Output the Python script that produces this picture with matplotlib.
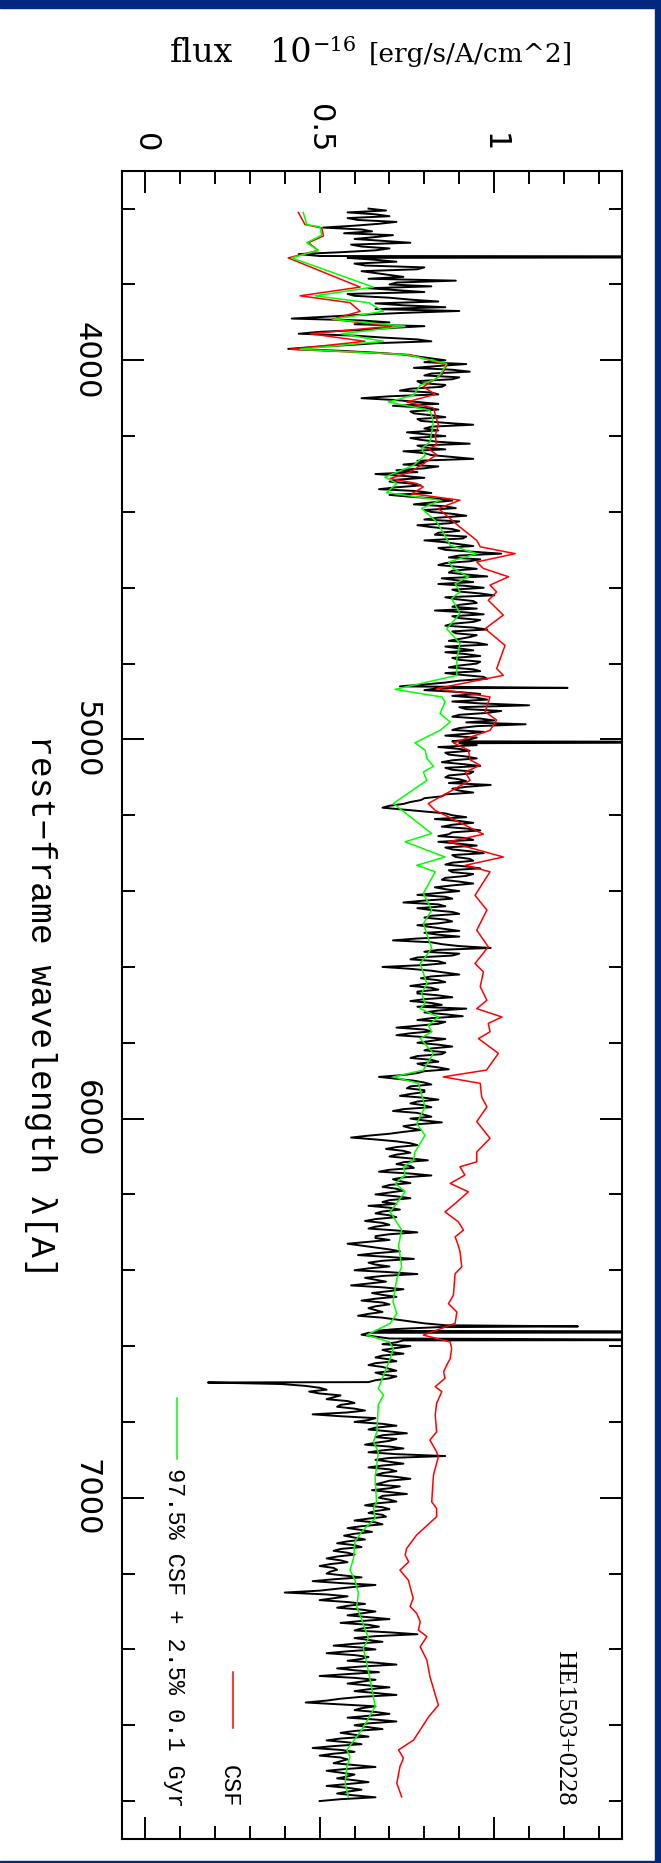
import numpy as np
import matplotlib
matplotlib.use('Agg')
import matplotlib.pyplot as plt
from matplotlib.ticker import MultipleLocator
from matplotlib.patches import Rectangle

plt.rcParams['font.family'] = ['DejaVu Sans']

# observed spectrum, read every 10 A from 3600 to 7800
wave = np.arange(3600, 7801, 10)
flux = [
    0.64, 0.58, 0.70, 0.61, 0.67, 0.51, 0.65, 0.71, 0.60, 0.76,  # 3600
    0.62, 0.66, 0.44, 0.58, 0.72, 0.63, 0.78, 0.66, 0.74, 0.89,  # 3700
    0.70, 0.64, 0.80, 0.60, 0.76, 0.66, 0.86, 0.90, 0.62, 0.42,  # 3800
    0.70, 0.80, 0.62, 0.44, 0.68, 0.82, 0.58, 0.41, 0.66, 0.78,  # 3900
    0.86, 0.92, 0.77, 0.93, 0.80, 0.88, 0.79, 0.85, 0.73, 0.84,  # 4000
    0.62, 0.78, 0.71, 0.84, 0.77, 0.86, 0.79, 0.94, 0.80, 0.75,  # 4100
    0.86, 0.79, 0.93, 0.80, 0.74, 0.82, 0.94, 0.80, 0.84, 0.72,  # 4200
    0.66, 0.80, 0.70, 0.79, 0.67, 0.82, 0.76, 0.88, 0.77, 0.89,  # 4300
    0.82, 0.92, 0.80, 0.87, 0.82, 0.90, 0.83, 0.91, 0.86, 0.94,  # 4400
    0.86, 1.02, 0.87, 0.93, 0.84, 0.95, 0.87, 0.98, 0.89, 0.84,  # 4500
    0.97, 0.90, 1.00, 0.89, 0.95, 0.88, 0.83, 0.97, 0.90, 0.94,  # 4600
    0.86, 0.98, 0.89, 0.93, 0.87, 0.98, 0.90, 0.86, 0.96, 0.90,  # 4700
    0.95, 0.87, 0.96, 0.91, 0.98, 0.86, 0.73, 0.80, 0.96, 0.95,  # 4800
    0.88, 1.10, 0.92, 0.98, 0.88, 1.00, 1.09, 0.90, 0.97, 0.86,  # 4900
    0.93, 0.90, 0.84, 0.93, 0.87, 0.95, 0.85, 0.96, 0.88, 0.93,  # 5000
    0.86, 0.92, 0.99, 0.88, 0.94, 0.85, 0.79, 0.74, 0.68, 0.80,  # 5100
    0.88, 0.83, 0.94, 0.85, 0.96, 0.87, 0.92, 0.84, 0.95, 0.88,  # 5200
    0.97, 0.89, 0.94, 0.86, 0.96, 0.88, 0.92, 0.85, 0.94, 0.83,  # 5300
    0.90, 0.78, 0.88, 0.74, 0.86, 0.82, 0.90, 0.80, 0.88, 0.78,  # 5400
    0.86, 0.80, 0.90, 0.71, 0.85, 0.99, 0.80, 0.88, 0.76, 0.86,  # 5500
    0.68, 0.82, 0.90, 0.79, 0.86, 0.76, 0.84, 0.78, 0.88, 0.76,  # 5600
    0.85, 0.92, 0.80, 0.91, 0.78, 0.84, 0.72, 0.82, 0.72, 0.86,  # 5700
    0.78, 0.88, 0.80, 0.85, 0.76, 0.84, 0.80, 0.87, 0.78, 0.67,  # 5800
    0.77, 0.82, 0.75, 0.80, 0.73, 0.84, 0.76, 0.82, 0.71, 0.80,  # 5900
    0.76, 0.85, 0.74, 0.79, 0.70, 0.59, 0.72, 0.78, 0.69, 0.76,  # 6000
    0.70, 0.81, 0.72, 0.77, 0.67, 0.82, 0.71, 0.76, 0.68, 0.74,  # 6100
    0.66, 0.76, 0.68, 0.64, 0.73, 0.66, 0.72, 0.63, 0.70, 0.64,  # 6200
    0.78, 0.66, 0.70, 0.58, 0.66, 0.73, 0.61, 0.77, 0.64, 0.70,  # 6300
    0.60, 0.78, 0.63, 0.69, 0.59, 0.74, 0.65, 0.72, 0.62, 0.70,  # 6400
    0.64, 0.68, 0.61, 0.72, 0.80, 0.84, 0.66, 0.62, 0.70, 0.72,  # 6500
    0.76, 0.68, 0.74, 0.66, 0.72, 0.64, 0.70, 0.66, 0.72, 0.66,  # 6600
    0.39, 0.50, 0.47, 0.56, 0.52, 0.60, 0.55, 0.63, 0.48, 0.66,  # 6700
    0.60, 0.72, 0.64, 0.75, 0.66, 0.70, 0.63, 0.74, 0.64, 0.86,  # 6800
    0.66, 0.74, 0.64, 0.72, 0.66, 0.76, 0.68, 0.73, 0.65, 0.75,  # 6900
    0.67, 0.72, 0.63, 0.70, 0.64, 0.69, 0.60, 0.68, 0.58, 0.65,  # 7000
    0.57, 0.63, 0.55, 0.62, 0.54, 0.60, 0.52, 0.58, 0.50, 0.55,  # 7100
    0.52, 0.62, 0.48, 0.66, 0.55, 0.40, 0.58, 0.50, 0.63, 0.55,  # 7200
    0.66, 0.58, 0.70, 0.56, 0.67, 0.60, 0.78, 0.60, 0.68, 0.54,  # 7300
    0.66, 0.52, 0.64, 0.58, 0.72, 0.55, 0.67, 0.50, 0.66, 0.58,  # 7400
    0.70, 0.60, 0.72, 0.56, 0.46, 0.66, 0.60, 0.70, 0.58, 0.72,  # 7500
    0.60, 0.68, 0.56, 0.64, 0.52, 0.62, 0.48, 0.60, 0.50, 0.58,  # 7600
    0.54, 0.66, 0.52, 0.60, 0.55, 0.64, 0.52, 0.62, 0.55, 0.66,  # 7700
    0.50,
]

# in-between samples, 3605 ... 7795
wave_mid = np.arange(3605, 7800, 10)
flux_mid = [
    0.69, 0.66, 0.58, 0.72, 0.60, 0.62, 0.57, 0.66, 0.68, 0.59,  # 3605
    0.70, 0.56, 0.50, 0.66, 0.60, 0.80, 0.62, 0.70, 0.64, 0.72,  # 3705
    0.82, 0.72, 0.58, 0.70, 0.84, 0.74, 0.66, 0.74, 0.52, 0.62,  # 3805
    0.60, 0.70, 0.50, 0.60, 0.78, 0.66, 0.48, 0.56, 0.74, 0.82,  # 3905
    0.80, 0.84, 0.88, 0.82, 0.90, 0.78, 0.86, 0.76, 0.82, 0.70,  # 4005
    0.72, 0.84, 0.80, 0.76, 0.82, 0.78, 0.86, 0.82, 0.84, 0.80,  # 4105
    0.76, 0.84, 0.78, 0.86, 0.80, 0.88, 0.78, 0.74, 0.80, 0.78,  # 4205
    0.74, 0.72, 0.76, 0.72, 0.78, 0.70, 0.84, 0.82, 0.86, 0.80,  # 4305
    0.88, 0.84, 0.90, 0.78, 0.88, 0.84, 0.92, 0.80, 0.90, 0.84,  # 4405
    0.94, 0.90, 0.96, 0.86, 0.90, 0.88, 0.92, 0.85, 0.94, 0.92,  # 4505
    0.88, 0.96, 0.86, 0.94, 0.90, 0.95, 0.92, 0.88, 0.96, 0.88,  # 4605
    0.94, 0.88, 0.95, 0.90, 0.95, 0.86, 0.94, 0.92, 0.88, 0.96,  # 4705
    0.90, 0.94, 0.86, 0.97, 0.90, 0.80, 0.84, 0.90, 0.88, 0.98,  # 4805
    0.96, 0.90, 1.02, 0.90, 0.96, 0.92, 0.95, 0.88, 0.92, 0.95,  # 4905
    0.88, 0.95, 0.90, 0.86, 0.92, 0.88, 0.91, 0.86, 0.94, 0.87,  # 5005
    0.90, 0.87, 0.92, 0.90, 0.86, 0.80, 0.76, 0.70, 0.74, 0.86,  # 5105
    0.92, 0.90, 0.88, 0.92, 0.88, 0.84, 0.94, 0.90, 0.86, 0.93,  # 5205
    0.88, 0.93, 0.88, 0.92, 0.87, 0.94, 0.86, 0.90, 0.88, 0.86,  # 5305
    0.84, 0.86, 0.80, 0.84, 0.78, 0.88, 0.82, 0.86, 0.84, 0.82,  # 5405
    0.90, 0.84, 0.78, 0.82, 0.90, 0.84, 0.90, 0.78, 0.84, 0.80,  # 5505
    0.76, 0.86, 0.82, 0.84, 0.80, 0.82, 0.78, 0.84, 0.80, 0.82,  # 5605
    0.78, 0.84, 0.86, 0.82, 0.86, 0.78, 0.80, 0.76, 0.80, 0.82,  # 5705
    0.84, 0.82, 0.86, 0.78, 0.82, 0.78, 0.84, 0.80, 0.74, 0.72,  # 5805
    0.80, 0.76, 0.80, 0.76, 0.80, 0.78, 0.80, 0.74, 0.78, 0.82,  # 5905
    0.80, 0.78, 0.76, 0.74, 0.64, 0.66, 0.76, 0.72, 0.74, 0.72,  # 6005
    0.76, 0.74, 0.76, 0.70, 0.76, 0.74, 0.73, 0.70, 0.72, 0.70,  # 6105
    0.72, 0.70, 0.72, 0.70, 0.68, 0.70, 0.66, 0.68, 0.66, 0.72,  # 6205
    0.70, 0.66, 0.64, 0.62, 0.70, 0.66, 0.70, 0.68, 0.66, 0.64,  # 6305
    0.70, 0.68, 0.66, 0.64, 0.68, 0.70, 0.68, 0.66, 0.68, 0.66,  # 6405
    0.66, 0.64, 0.68, 0.76, 0.86, 0.72, 0.64, 0.66, 0.74, 0.68,  # 6505
    0.72, 0.70, 0.68, 0.70, 0.66, 0.68, 0.72, 0.68, 0.70, 0.64,  # 6605
    0.46, 0.52, 0.50, 0.54, 0.58, 0.56, 0.60, 0.58, 0.56, 0.64,  # 6705
    0.68, 0.66, 0.70, 0.68, 0.72, 0.66, 0.70, 0.68, 0.72, 0.70,  # 6805
    0.70, 0.68, 0.70, 0.68, 0.72, 0.70, 0.66, 0.70, 0.70, 0.68,  # 6905
    0.70, 0.66, 0.68, 0.66, 0.68, 0.64, 0.66, 0.62, 0.62, 0.60,  # 7005
    0.60, 0.58, 0.60, 0.56, 0.58, 0.55, 0.56, 0.53, 0.54, 0.53,  # 7105
    0.57, 0.54, 0.56, 0.60, 0.50, 0.52, 0.54, 0.58, 0.58, 0.62,  # 7205
    0.62, 0.64, 0.62, 0.64, 0.62, 0.70, 0.66, 0.64, 0.60, 0.62,  # 7305
    0.58, 0.60, 0.62, 0.66, 0.62, 0.60, 0.58, 0.60, 0.62, 0.64,  # 7405
    0.64, 0.66, 0.62, 0.52, 0.56, 0.62, 0.66, 0.64, 0.66, 0.64,  # 7505
    0.64, 0.60, 0.60, 0.56, 0.58, 0.54, 0.56, 0.54, 0.56, 0.56,  # 7605
    0.60, 0.58, 0.56, 0.58, 0.60, 0.58, 0.58, 0.58, 0.60, 0.56,  # 7705
]

# narrow lines (emission + telluric dip)
line_wave = [3727, 4864, 5007, 6548, 6563, 6584, 6696]
line_flux = [3.0, 1.21, 2.0, 1.24, 3.0, 1.8, 0.18]

# CSF model
csf_wave = [3610, 3642, 3651, 3672, 3690, 3710, 3730, 3807, 3830, 3848, 3871, 3892,
            3910, 3930, 3950, 3971, 3985, 4013, 4038, 4047, 4070, 4090, 4110, 4126,
            4171, 4198, 4224, 4233, 4249, 4273, 4295, 4312, 4325, 4334, 4352, 4369,
            4391, 4440, 4475, 4492, 4510, 4532, 4549, 4571, 4593, 4611, 4633, 4672,
            4708, 4752, 4813, 4831, 4866, 4888, 4927, 4949, 4976, 5009, 5028, 5054,
            5068, 5086, 5108, 5169, 5187, 5250, 5270, 5310, 5332, 5349, 5411, 5450,
            5503, 5547, 5591, 5613, 5652, 5688, 5710, 5732, 5749, 5771, 5789, 5828,
            5872, 5890, 5907, 5943, 5969, 6008, 6052, 6088, 6114, 6127, 6149, 6171,
            6193, 6224, 6246, 6272, 6294, 6312, 6334, 6351, 6391, 6409, 6466, 6488,
            6510, 6540, 6571, 6589, 6606, 6633, 6650, 6668, 6685, 6707, 6720, 6751,
            6782, 6826, 6848, 6879, 6892, 6940, 7011, 7028, 7050, 7098, 7134, 7151,
            7169, 7191, 7217, 7265, 7287, 7305, 7327, 7349, 7366, 7393, 7428, 7472,
            7547, 7578, 7639, 7665, 7687, 7709, 7753, 7789]
csf_flux = [0.439, 0.458, 0.506, 0.511, 0.468, 0.496, 0.410, 0.616, 0.444, 0.587, 0.616, 0.535,
            0.707, 0.473, 0.630, 0.415, 0.759, 0.864, 0.850, 0.835, 0.797, 0.831, 0.749, 0.826,
            0.840, 0.831, 0.835, 0.811, 0.835, 0.797, 0.759, 0.702, 0.778, 0.797, 0.764, 0.902,
            0.840, 0.902, 0.950, 0.960, 1.060, 0.950, 0.969, 1.041, 0.988, 1.007, 0.983, 1.026,
            0.974, 1.031, 1.007, 1.026, 0.835, 0.988, 0.974, 1.007, 0.988, 0.883, 0.926, 0.931,
            0.960, 0.917, 0.931, 0.811, 0.831, 0.969, 0.869, 1.026, 0.917, 0.988, 0.945, 0.979,
            0.950, 0.983, 0.945, 0.969, 0.960, 0.979, 0.950, 1.022, 0.983, 0.988, 0.955, 1.012,
            0.978, 0.854, 0.960, 0.964, 0.979, 0.950, 0.988, 0.950, 0.950, 0.902, 0.916, 0.874,
            0.926, 0.888, 0.859, 0.897, 0.912, 0.888, 0.897, 0.902, 0.907, 0.888, 0.883, 0.869,
            0.893, 0.888, 0.797, 0.874, 0.878, 0.874, 0.864, 0.855, 0.859, 0.831, 0.850, 0.835,
            0.831, 0.835, 0.816, 0.835, 0.840, 0.826, 0.821, 0.835, 0.835, 0.778, 0.749, 0.745,
            0.755, 0.730, 0.754, 0.768, 0.759, 0.778, 0.788, 0.783, 0.807, 0.788, 0.807, 0.816,
            0.840, 0.812, 0.769, 0.726, 0.740, 0.730, 0.721, 0.735]

# 97.5% CSF + 2.5% 0.1 Gyr model
mix_wave = [3610, 3642, 3648, 3670, 3690, 3710, 3730, 3807, 3830, 3848, 3871, 3892,
            3910, 3930, 3950, 3971, 3985, 4009, 4031, 4048, 4066, 4092, 4110, 4132,
            4163, 4215, 4233, 4251, 4277, 4308, 4325, 4349, 4369, 4391, 4426, 4448,
            4488, 4510, 4532, 4549, 4571, 4589, 4611, 4628, 4668, 4708, 4747, 4787,
            4831, 4868, 4888, 4901, 4932, 4954, 4976, 5009, 5028, 5050, 5071, 5086,
            5108, 5169, 5248, 5270, 5310, 5332, 5349, 5406, 5450, 5486, 5551, 5591,
            5644, 5670, 5696, 5710, 5732, 5754, 5771, 5789, 5828, 5872, 5890, 5907,
            5969, 6013, 6044, 6088, 6110, 6127, 6149, 6171, 6193, 6246, 6294, 6334,
            6391, 6422, 6483, 6514, 6540, 6571, 6589, 6606, 6633, 6668, 6712, 6729,
            6755, 6826, 6852, 6879, 6949, 7011, 7028, 7054, 7090, 7116, 7160, 7191,
            7217, 7252, 7287, 7323, 7371, 7397, 7437, 7481, 7551, 7613, 7665, 7683,
            7709, 7753, 7789]
mix_flux = [0.453, 0.463, 0.501, 0.506, 0.463, 0.496, 0.420, 0.654, 0.487, 0.640, 0.683, 0.539,
            0.745, 0.563, 0.683, 0.444, 0.749, 0.864, 0.850, 0.835, 0.788, 0.769, 0.697, 0.816,
            0.826, 0.816, 0.792, 0.802, 0.769, 0.687, 0.721, 0.692, 0.845, 0.792, 0.835, 0.850,
            0.874, 0.950, 0.869, 0.883, 0.926, 0.888, 0.902, 0.878, 0.902, 0.864, 0.902, 0.893,
            0.893, 0.716, 0.850, 0.859, 0.845, 0.874, 0.845, 0.773, 0.802, 0.807, 0.826, 0.797,
            0.807, 0.711, 0.821, 0.745, 0.859, 0.778, 0.831, 0.797, 0.821, 0.797, 0.821, 0.788,
            0.807, 0.792, 0.802, 0.788, 0.840, 0.811, 0.821, 0.788, 0.826, 0.797, 0.711, 0.783,
            0.802, 0.778, 0.802, 0.773, 0.769, 0.740, 0.745, 0.716, 0.745, 0.702, 0.735, 0.726,
            0.735, 0.721, 0.710, 0.721, 0.702, 0.635, 0.700, 0.711, 0.702, 0.687, 0.668, 0.683,
            0.668, 0.664, 0.654, 0.668, 0.659, 0.663, 0.654, 0.659, 0.620, 0.601, 0.597, 0.587,
            0.601, 0.611, 0.606, 0.621, 0.640, 0.625, 0.635, 0.645, 0.659, 0.620, 0.578, 0.587,
            0.578, 0.573, 0.582]

x_ticks = [0, 0.5, 1]
x_tick_labels = ['0', '0.5', '1']
y_ticks = [4000, 5000, 6000, 7000]

# merge all samples of the observed spectrum in wavelength order
obs_w = np.concatenate([wave, wave_mid, line_wave])
obs_f = np.concatenate([flux, flux_mid, line_flux])
order = np.argsort(obs_w)
obs_w, obs_f = obs_w[order], obs_f[order]

W, H = 661, 1863
fig = plt.figure(figsize=(W / 100, H / 100), dpi=100)
ax = fig.add_axes([122 / W, (H - 1839) / H, 500 / W, (1839 - 170.7) / H])

# plot rotated: flux on x, wavelength running down
ax.plot(obs_f, obs_w, color='black', lw=1.4)
ax.plot(csf_flux, csf_wave, color='#ff0000', lw=1.1)
ax.plot(mix_flux, mix_wave, color='#00ff00', lw=1.1)

ax.set_xlim(-0.066, 1.366)
ax.set_ylim(7900, 3500)

ax.set_xticks(x_ticks)
ax.set_xticklabels(x_tick_labels)
ax.set_yticks(y_ticks)
ax.xaxis.set_minor_locator(MultipleLocator(0.1))
ax.yaxis.set_minor_locator(MultipleLocator(200))
for s in ax.spines.values():
    s.set_linewidth(1.5)
ax.tick_params(which='both', direction='in', top=True, right=True, width=1.4)
ax.tick_params(which='major', length=15.8)
ax.tick_params(which='minor', length=9.4)
ax.tick_params(axis='x', labeltop=True, labelbottom=False, labelrotation=-90,
               pad=13.5, labelsize=22)
ax.tick_params(axis='y', labelrotation=-90, pad=15.4, labelsize=22)
for lab in ax.get_yticklabels():
    lab.set_va('center')

# axis label (rotated)
fig.text(40.5 / W, 1 - 1006 / H, 'rest\u2212frame wavelength \u03bb[A]', rotation=-90,
         ha='center', va='center', fontsize=25, family=['Liberation Mono', 'DejaVu Sans Mono'])

# title, horizontal
serif = ['DejaVu Serif']
fig.text(170 / W, 1 - 62 / H, 'flux', fontsize=24, family=serif, va='baseline')
fig.text(270 / W, 1 - 62 / H, '10', fontsize=24, family=serif, va='baseline')
fig.text(313 / W, 1 - 51 / H, '\u221216', fontsize=15, family=serif, va='baseline')
fig.text(369 / W, 1 - 62 / H, '[erg/s/A/cm^2]', fontsize=19, family=serif, va='baseline')

# legend, drawn by hand like the original
mono = ['Liberation Mono', 'DejaVu Sans Mono']
ax.plot([0.110, 0.110], [0.2278, 0.2643], transform=ax.transAxes, color='#00ff00', lw=1.1)
ax.text(0.104, 0.0192, '97.5% CSF + 2.5% 0.1 Gyr', transform=ax.transAxes, rotation=-90,
        ha='center', va='bottom', fontsize=17, family=mono)
ax.plot([0.2214, 0.2214], [0.0665, 0.1001], transform=ax.transAxes, color='#ff0000', lw=1.1)
ax.text(0.214, 0.0192, 'CSF', transform=ax.transAxes, rotation=-90,
        ha='center', va='bottom', fontsize=17, family=mono)
ax.text(0.8852, 0.0198, 'HE1503+0228', transform=ax.transAxes, rotation=-90,
        ha='center', va='bottom', fontsize=19, family=['Liberation Serif', 'DejaVu Serif'])

# dark blue frame of the slide
blue = '#00287f'
fig.patches.append(Rectangle((0, 1 - 7.5 / H), 1, 7.5 / H, transform=fig.transFigure,
                             color=blue, zorder=10))
fig.patches.append(Rectangle((655 / W, 0), 6 / W, 1, transform=fig.transFigure,
                             color=blue, zorder=10))
fig.patches.append(Rectangle((0, 0), 1, 2 / H, transform=fig.transFigure,
                             color=blue, zorder=10))

fig.savefig('out.png', dpi=100)
